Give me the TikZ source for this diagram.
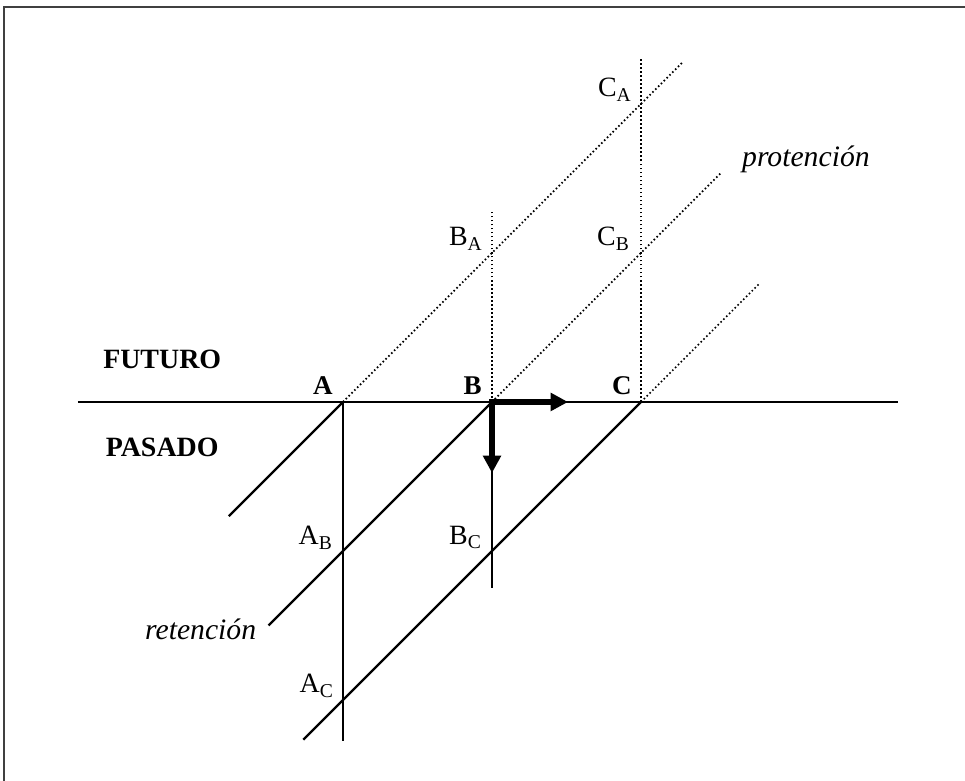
\documentclass[tikz,border=0pt]{standalone}
\usepackage{fontspec}
\setmainfont{Liberation Serif}
\usetikzlibrary{arrows.meta,positioning}

\begin{document}
\begin{tikzpicture}[
    line/.style={line width=1.3pt},
    dots/.style={line width=1pt, dash pattern=on 0.9pt off 1.4pt},
    flow/.style={line width=3pt, -{Triangle[length=10pt,width=10pt]}},
    lbl/.style={font=\fontsize{16}{19}\selectfont, inner sep=0pt},
    now/.style={font=\fontsize{15.5}{19}\selectfont\bfseries, inner sep=0pt},
    word/.style={font=\fontsize{16}{20}\selectfont\bfseries},
    term/.style={font=\fontsize{17}{20}\selectfont\itshape, inner sep=0pt}]
    \useasboundingbox (-6.906,-7.630) rectangle (12.523,8.093);
    \draw[black!75, line width=1.2pt] (12.6,7.953) -- (-6.825,7.953) -- (-6.825,-7.7);

    % now-points
    \coordinate (A) at (0,0);
    \coordinate (B) at (3,0);
    \coordinate (C) at (6,0);
    % retained / protended phases
    \coordinate (AB) at (0,-3);
    \coordinate (AC) at (0,-6);
    \coordinate (BC) at (3,-3);
    \coordinate (BA) at (3,3);
    \coordinate (CA) at (6,6);
    \coordinate (CB) at (6,3);
    % free ends
    \coordinate (west) at (-5.34,0);
    \coordinate (east) at (11.17,0);
    \coordinate (Abot) at (0,-6.83);
    \coordinate (Bbot) at (3,-3.75);
    \coordinate (Btop) at (3,3.83);
    \coordinate (Ctop) at (6,6.95);
    \coordinate (Alow) at (-2.3,-2.3);
    \coordinate (Blow) at (-1.5,-4.5);
    \coordinate (Clow) at (-0.8,-6.8);
    \coordinate (Ahigh) at (6.85,6.85);
    \coordinate (Bhigh) at (7.6,4.6);
    \coordinate (Chigh) at (8.4,2.4);
    \coordinate (Bright) at (4.53,0);
    \coordinate (Bdown) at (3,-1.43);

    \draw[line] (west) -- (east);
    \draw[line] (A) -- (AB) -- (AC) -- (Abot);
    \draw[line] (B) -- (BC) -- (Bbot);
    \draw[dots] (B) -- (BA) -- (Btop);
    \draw[dots] (C) -- (CB) -- (CA) -- (Ctop);

    \draw[line] (Alow) -- (A);
    \draw[line] (Blow) -- (AB) -- (B);
    \draw[line] (Clow) -- (AC) -- (BC) -- (C);
    \draw[dots] (A) -- (BA) -- (CA) -- (Ahigh);
    \draw[dots] (B) -- (CB) -- (Bhigh);
    \draw[dots] (C) -- (Chigh);

    \draw[flow, line cap=rect] (B) -- (Bright);
    \draw[flow, line cap=rect] (B) -- (Bdown);

    \node[now, above left=0.14 and 0.2 of A] {A};
    \node[now, above left=0.14 and 0.2 of B] {B};
    \node[now, above left=0.14 and 0.18 of C] {C};
    \node[lbl, above left=0.05 and 0.18 of BA] {B\textsubscript{A}};
    \node[lbl, above left=0.05 and 0.18 of CA] {C\textsubscript{A}};
    \node[lbl, above left=0.05 and 0.22 of CB] {C\textsubscript{B}};
    \node[lbl, above left=0.03 and 0.2 of AB] {A\textsubscript{B}};
    \node[lbl, above left=0.03 and 0.2 of BC] {B\textsubscript{C}};
    \node[lbl, above left=0.04 and 0.18 of AC] {A\textsubscript{C}};

    \node[word] at (-3.64,0.85) {FUTURO};
    \node[word] at (-3.64,-0.906) {PASADO};
    \node[term, anchor=base west] at (8.03,4.75) {protención};
    \node[term, anchor=base west] at (-3.99,-4.79) {retención};
  \end{tikzpicture}
\end{document}
